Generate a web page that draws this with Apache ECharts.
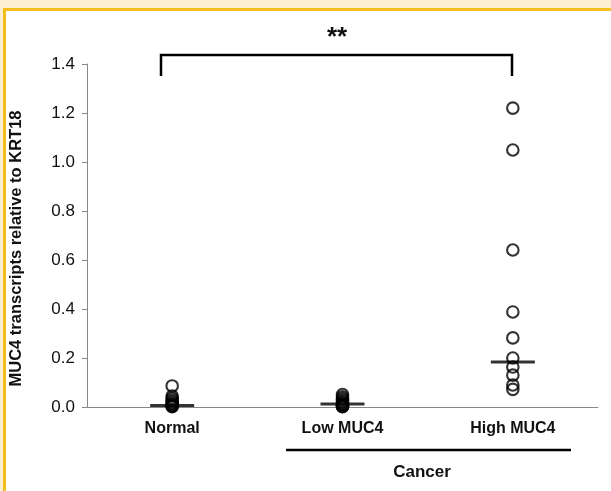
<!DOCTYPE html>
<html>
<head>
<meta charset="utf-8">
<script src="https://cdn.jsdelivr.net/npm/echarts@6/dist/echarts.min.js"></script>
<style>
    html, body {
        margin: 0;
        padding: 0;
        background: #ffffff;
    }
    #chart {
        width: 611px;
        height: 491px;
    }
</style>
</head>
<body>
<div id="chart"></div>
<script>
const categories = ["Normal", "Low MUC4", "High MUC4"];
const normalVals = [0.086, 0.045, 0.036, 0.028, 0.021, 0.015, 0.01, 0.006, 0.003, 0.001];
const lowVals = [0.051, 0.042, 0.034, 0.027, 0.021, 0.016, 0.012, 0.009, 0.006, 0.004, 0.002, 0.001];
const highVals = [1.22, 1.049, 0.641, 0.388, 0.282, 0.2, 0.163, 0.13, 0.09, 0.072];
const medians = [0.006, 0.012, 0.184];
const groupLabel = "Cancer";
const sigLabel = "**";

const font = "'Liberation Sans', Arial, sans-serif";

const toPoints = (vals, idx) => vals.map((v) => [categories[idx], v]);

const chart = echarts.init(document.getElementById("chart"));

const option = {
    animation: false,
    backgroundColor: "#ffffff",
    grid: {
        left: 85,
        right: 13,
        top: 64,
        bottom: 84,
    },
    xAxis: {
        type: "category",
        data: categories,
        boundaryGap: true,
        axisLine: { lineStyle: { color: "#888888", width: 1 } },
        axisTick: { show: false },
        axisLabel: {
            margin: 14,
            fontFamily: font,
            fontSize: 16,
            fontWeight: "bold",
            color: "#111111",
        },
    },
    yAxis: {
        type: "value",
        min: 0,
        max: 1.4,
        interval: 0.2,
        name: "MUC4 transcripts relative to KRT18",
        nameLocation: "middle",
        nameGap: 62,
        nameTextStyle: {
            fontFamily: font,
            fontSize: 16.5,
            fontWeight: "bold",
            color: "#111111",
            padding: [0, 26, 0, 0],
        },
        axisLine: { show: true, lineStyle: { color: "#888888", width: 1 } },
        axisTick: { show: true, length: 5, lineStyle: { color: "#888888" } },
        splitLine: { show: false },
        axisLabel: {
            margin: 12,
            fontFamily: font,
            fontSize: 17,
            color: "#111111",
            formatter: (v) => v.toFixed(1),
        },
    },
    series: [
        {
            type: "scatter",
            data: [].concat(toPoints(normalVals, 0), toPoints(lowVals, 1), toPoints(highVals, 2)),
            symbol: "circle",
            symbolSize: 11.5,
            itemStyle: {
                color: "rgba(255,255,255,0)",
                borderColor: "#000000",
                borderWidth: 2.1,
            },
            z: 2,
        },
        {
            type: "scatter",
            data: medians.map((v, i) => [categories[i], v]),
            symbol: "rect",
            symbolSize: [44, 3],
            itemStyle: { color: "#000000" },
            z: 3,
        },
    ],
    graphic: [
        // page frame
        { type: "rect", shape: { x: 0, y: 0, width: 611, height: 8 }, style: { fill: "#fdf0d2" } },
        { type: "rect", shape: { x: 0, y: 0, width: 3, height: 491 }, style: { fill: "#fdf0d2" } },
        { type: "rect", shape: { x: 3, y: 8, width: 608, height: 3 }, style: { fill: "#f4bf1c" } },
        { type: "rect", shape: { x: 3, y: 8, width: 3, height: 483 }, style: { fill: "#f4bf1c" } },
        // significance bracket
        {
            type: "polyline",
            shape: { points: [[161, 76], [161, 55], [512, 55], [512, 76]] },
            style: { stroke: "#000000", lineWidth: 2.5, fill: null },
        },
        {
            type: "text",
            x: 337,
            y: 38,
            style: {
                text: sigLabel,
                fontFamily: font,
                fontSize: 26,
                fontWeight: "bold",
                fill: "#111111",
                align: "center",
                verticalAlign: "middle",
            },
        },
        // group underline
        {
            type: "line",
            shape: { x1: 286, y1: 450, x2: 571, y2: 450 },
            style: { stroke: "#000000", lineWidth: 2.5 },
        },
        {
            type: "text",
            x: 422,
            y: 472,
            style: {
                text: groupLabel,
                fontFamily: font,
                fontSize: 17,
                fontWeight: "bold",
                fill: "#111111",
                align: "center",
                verticalAlign: "middle",
            },
        },
    ],
};

chart.setOption(option);
</script>
</body>
</html>
